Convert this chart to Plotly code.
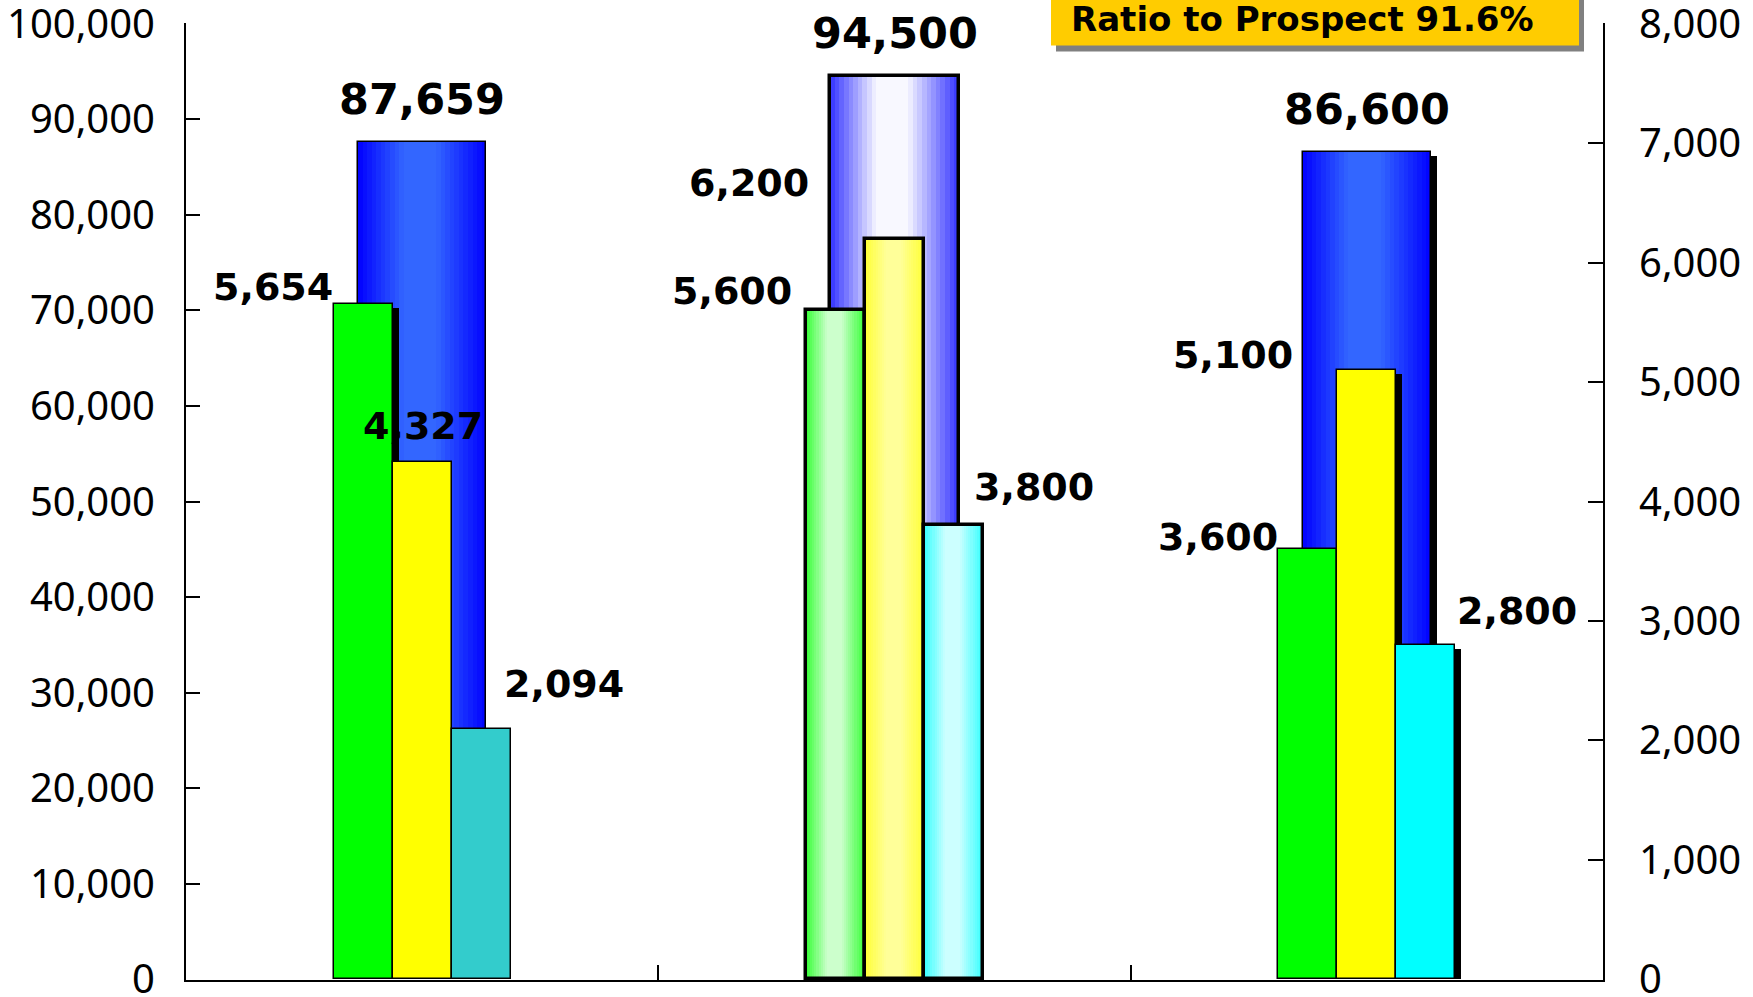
import plotly.graph_objects as go

# ---------------- data ----------------
GROUP_POS = [0, 1, 2]
BLUE_VALUES = [87659, 94500, 86600]      # left axis
GREEN_VALUES = [5654, 5600, 3600]        # right axis
YELLOW_VALUES = [4327, 6200, 5100]       # right axis
CYAN_VALUES = [2094, 3800, 2800]         # right axis
LEFT_TICKS = [0, 10000, 20000, 30000, 40000, 50000, 60000, 70000, 80000, 90000, 100000]
RIGHT_TICKS = [0, 1000, 2000, 3000, 4000, 5000, 6000, 7000, 8000]
RATIO_TEXT = "Ratio to Prospect 91.6%"

# ---------------- layout geometry ----------------
W, H = 1753, 997
ML, MR, MT, MB = 186, 150, 23, 17
PLOT_W = W - ML - MR
PLOT_H = H - MT - MB
PX_PER_CAT = PLOT_W / 3.0


def hex2rgb(h):
    h = h.lstrip('#')
    return tuple(int(h[i:i + 2], 16) for i in (0, 2, 4))


def mix(c1, c2, p):
    a, b = hex2rgb(c1), hex2rgb(c2)
    return 'rgb(%d,%d,%d)' % tuple(round(a[i] + (b[i] - a[i]) * p) for i in range(3))


def profile(t):
    return max(0.0, min(1.0, t / 0.36, (1 - t) / 0.40))


SERIES = [
    dict(key='blue', values=BLUE_VALUES, axis='y', yr=100000, offset=-0.136, width=0.272,
         edge=['#0000ff', '#3333ff', '#0000ff'], center=['#3366ff', '#f8f8ff', '#3366ff'],
         lw=[1.5, 3.5, 1.5], shadow=[False, False, True]),
    dict(key='green', values=GREEN_VALUES, axis='y2', yr=8000, offset=-0.1875, width=0.125,
         edge=['#00ff00', '#33ff33', '#00ff00'], center=['#00ff00', '#ccffcc', '#00ff00'],
         lw=[1.5, 3.5, 1.5], shadow=[True, False, True]),
    dict(key='yellow', values=YELLOW_VALUES, axis='y2', yr=8000, offset=-0.0625, width=0.125,
         edge=['#ffff00', '#ffff33', '#ffff00'], center=['#ffff00', '#ffff99', '#ffff00'],
         lw=[1.5, 3.5, 1.5], shadow=[False, False, True]),
    dict(key='cyan', values=CYAN_VALUES, axis='y2', yr=8000, offset=0.0625, width=0.125,
         edge=['#33cccc', '#33ffff', '#00ffff'], center=['#33cccc', '#ccffff', '#00ffff'],
         lw=[1.5, 3.5, 1.5], shadow=[False, False, True]),
]

N_SLICES = 28
SHADOW_DX = 6 / PX_PER_CAT
SHADOW_DY_PX = 4

fig = go.Figure()

for s in SERIES:
    dy = SHADOW_DY_PX / PLOT_H * s['yr']
    sh_vals = [v - dy if f else None for v, f in zip(s['values'], s['shadow'])]
    fig.add_trace(go.Bar(x=GROUP_POS, y=sh_vals, yaxis=s['axis'],
                         offset=s['offset'] + SHADOW_DX, width=s['width'],
                         marker=dict(color='black', line=dict(width=0)),
                         showlegend=False, hoverinfo='skip'))
    sw = s['width'] / N_SLICES
    for k in range(N_SLICES):
        t = (k + 0.5) / N_SLICES
        cols = [mix(s['edge'][g], s['center'][g], profile(t)) for g in range(3)]
        extra = sw * 0.6 if k < N_SLICES - 1 else 0
        fig.add_trace(go.Bar(x=GROUP_POS, y=s['values'], yaxis=s['axis'],
                             offset=s['offset'] + k * sw, width=sw + extra,
                             marker=dict(color=cols, line=dict(width=0)),
                             showlegend=False, hoverinfo='skip'))
    fig.add_trace(go.Bar(x=GROUP_POS, y=s['values'], yaxis=s['axis'],
                         offset=s['offset'], width=s['width'], name=s['key'],
                         marker=dict(color='rgba(0,0,0,0)',
                                     line=dict(color='black', width=s['lw'])),
                         showlegend=False))

annotations = []
# big labels above the blue bars
for g, v in zip(GROUP_POS, BLUE_VALUES):
    annotations.append(dict(x=g, y=v, xref='x', yref='y', text=f"{v:,}",
                            showarrow=False, xanchor='center', yanchor='bottom', yshift=16,
                            font=dict(family='DejaVu Sans', size=43, color='black', weight='bold')))

# small labels: (edge of bar, xanchor, xshift, yshift)
LABEL_POS = {
    ('green', 0): ('left', 'right', 1.5, -7),
    ('yellow', 0): ('center', 'center', 1, 12),
    ('cyan', 0): ('right', 'left', -9, 21),
    ('green', 1): ('left', 'right', -11.5, -5),
    ('yellow', 1): ('left', 'right', -53.5, 32),
    ('cyan', 1): ('right', 'left', -11.5, 14),
    ('green', 2): ('left', 'right', 2, -12),
    ('yellow', 2): ('left', 'right', -42.5, -9),
    ('cyan', 2): ('right', 'left', -0.5, 10),
}
for s in SERIES[1:]:
    for g, v in zip(GROUP_POS, s['values']):
        edge, xa, xs, ys = LABEL_POS[(s['key'], g)]
        fx = {'left': 0.0, 'center': 0.5, 'right': 1.0}[edge]
        annotations.append(dict(x=g + s['offset'] + fx * s['width'], y=v, xref='x', yref='y2',
                                text=f"{v:,}", showarrow=False, xanchor=xa, yanchor='bottom',
                                xshift=xs, yshift=ys,
                                font=dict(family='DejaVu Sans', size=38, color='black', weight='bold')))


def px2paper_x(px):
    return (px - ML) / PLOT_W


def px2paper_y(py):
    return (H - MB - py) / PLOT_H


annotations.append(dict(x=px2paper_x(1069), y=px2paper_y(41), xref='paper', yref='paper',
                        text=RATIO_TEXT, showarrow=False, xanchor='left', yanchor='bottom',
                        font=dict(family='DejaVu Sans', size=34, color='black', weight='bold')))

shapes = [
    dict(type='rect', xref='paper', yref='paper', x0=px2paper_x(1056), x1=px2paper_x(1584),
         y0=px2paper_y(51.5), y1=px2paper_y(-30), fillcolor='#808080', line=dict(width=0), layer='above'),
    dict(type='rect', xref='paper', yref='paper', x0=px2paper_x(1051), x1=px2paper_x(1579),
         y0=px2paper_y(45.5), y1=px2paper_y(-30), fillcolor='#ffcc00', line=dict(width=0), layer='above'),
]

tick_font = dict(family='Noto Sans', size=40, color='black')
EPS_L = 100
EPS_R = 8

fig.update_layout(
    width=W, height=H, autosize=False, template='none',
    margin=dict(l=ML, r=MR, t=MT, b=MB, pad=0),
    paper_bgcolor='white', plot_bgcolor='white',
    barmode='overlay', bargap=0, showlegend=False,
    xaxis=dict(range=[-0.5, 2.5], tickvals=[0.5, 1.5], ticks='inside', ticklen=15, tickwidth=1.5,
               tickcolor='black', showticklabels=False, showline=True, linecolor='black',
               linewidth=2, showgrid=False, zeroline=False, automargin=False, fixedrange=True),
    yaxis=dict(range=[-EPS_L, LEFT_TICKS[-1] + EPS_L], tickvals=LEFT_TICKS, tickformat=',',
               ticks='inside', ticklen=14, ticklabeloverflow='allow',
               tickwidth=2, tickcolor='black', showline=True, linecolor='black', linewidth=2,
               showgrid=False, zeroline=False, tickfont=tick_font, ticklabelstandoff=21,
               automargin=False),
    yaxis2=dict(range=[-EPS_R, RIGHT_TICKS[-1] + EPS_R], tickvals=RIGHT_TICKS, tickformat=',',
                ticks='inside', ticklen=15, ticklabeloverflow='allow',
                tickwidth=2, tickcolor='black', showline=True, linecolor='black', linewidth=2,
                showgrid=False, zeroline=False, tickfont=tick_font, ticklabelstandoff=26,
                overlaying='y', side='right', anchor='x', automargin=False),
    annotations=annotations, shapes=shapes,
)

fig.write_html("out.html")
